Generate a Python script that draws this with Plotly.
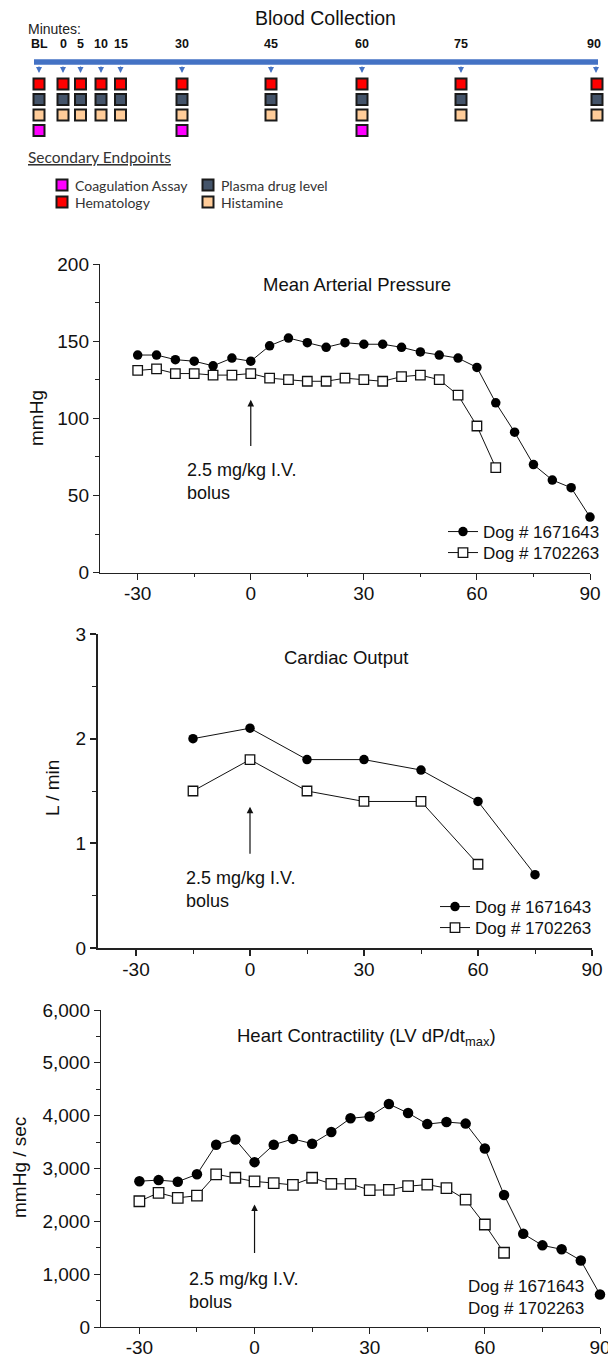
import plotly.graph_objects as go

W, H = 608, 1357

# ---------------- data ----------------
# Mean Arterial Pressure (mmHg)
map_min_dog1 = [-30, -25, -20, -15, -10, -5, 0, 5, 10, 15, 20, 25, 30, 35, 40, 45, 50, 55, 60, 65, 70, 75, 80, 85, 90]
map_dog1 = [141, 141, 138, 137, 134, 139, 137, 147, 152, 149, 146, 149, 148, 148, 146, 143, 141, 139, 133, 110, 91, 70, 60, 55, 36]
map_min_dog2 = [-30, -25, -20, -15, -10, -5, 0, 5, 10, 15, 20, 25, 30, 35, 40, 45, 50, 55, 60, 65]
map_dog2 = [131, 132, 129, 129, 128, 128, 129, 126, 125, 124, 124, 126, 125, 124, 127, 128, 125, 115, 95, 68]

# Cardiac Output (L/min)
co_min_dog1 = [-15, 0, 15, 30, 45, 60, 75]
co_dog1 = [2.0, 2.1, 1.8, 1.8, 1.7, 1.4, 0.7]
co_min_dog2 = [-15, 0, 15, 30, 45, 60]
co_dog2 = [1.5, 1.8, 1.5, 1.4, 1.4, 0.8]

# Heart Contractility (mmHg/sec)
hc_min_dog1 = [-30, -25, -20, -15, -10, -5, 0, 5, 10, 15, 20, 25, 30, 35, 40, 45, 50, 55, 60, 65, 70, 75, 80, 85, 90]
hc_dog1 = [2760, 2780, 2750, 2890, 3450, 3550, 3120, 3450, 3560, 3470, 3690, 3950, 3985, 4220, 4050, 3840, 3880, 3850, 3380, 2500, 1765, 1545, 1470, 1260, 615]
hc_min_dog2 = [-30, -25, -20, -15, -10, -5, 0, 5, 10, 15, 20, 25, 30, 35, 40, 45, 50, 55, 60, 65]
hc_dog2 = [2380, 2540, 2445, 2485, 2890, 2825, 2755, 2725, 2690, 2825, 2710, 2710, 2590, 2595, 2665, 2695, 2630, 2410, 1940, 1405]

dog_names = ["Dog # 1671643", "Dog # 1702263"]

# x tick labels (minutes)
x_tickvals = [-30, 0, 30, 60, 90]
x_ticktext = ["-30", "0", "30", "60", "90"]

# Blood collection schedule
timepoints = ["BL", "0", "5", "10", "15", "30", "45", "60", "75", "90"]
hematology_at = ["BL", "0", "5", "10", "15", "30", "45", "60", "75", "90"]
plasma_at = ["BL", "0", "5", "10", "15", "30", "45", "60", "75", "90"]
histamine_at = ["BL", "0", "5", "10", "15", "30", "45", "60", "75", "90"]
coag_at = ["BL", "30", "60"]

# ---------------- layout helpers (schematic positions) ----------------
SCHEM_X = {"BL": 39, "0": 63, "5": 80.5, "10": 101, "15": 120.5,
           "30": 182, "45": 271, "60": 362, "75": 461, "90": 597}
LABEL_X = dict(SCHEM_X, **{"90": 594})
ROW_Y = {"hem": 84, "pla": 99.5, "his": 115, "coa": 130.5}

RED = "#FF0000"
SLATE = "#44546A"
PEACH = "#FFCC99"
MAGENTA = "#FF00FF"
BLUE = "#4472C4"

CF = "Liberation Sans, Arial, sans-serif"
LF = "Lato, Carlito, Calibri, sans-serif"


def fx(p):
    return p / W


def fy(p):
    return 1 - p / H


fig = go.Figure()

# ---------- schematic (hidden axis in pixel-like units) ----------
def sq_trace(times, row, color, name):
    return go.Scatter(
        x=[SCHEM_X[t] for t in times], y=[ROW_Y[row]] * len(times),
        mode="markers", xaxis="x4", yaxis="y4", name=name, showlegend=False,
        marker=dict(symbol="square", size=11, color=color,
                    line=dict(color="#1a1a1a", width=2)),
        hoverinfo="skip", cliponaxis=False)


fig.add_trace(sq_trace(hematology_at, "hem", RED, "Hematology"))
fig.add_trace(sq_trace(plasma_at, "pla", SLATE, "Plasma drug level"))
fig.add_trace(sq_trace(histamine_at, "his", PEACH, "Histamine"))
fig.add_trace(sq_trace(coag_at, "coa", MAGENTA, "Coagulation Assay"))

# endpoint legend squares
leg_items = [("Coagulation Assay", MAGENTA, 62, 185), ("Hematology", RED, 62, 202),
             ("Plasma drug level", SLATE, 208, 185), ("Histamine", PEACH, 208, 202)]
fig.add_trace(go.Scatter(
    x=[it[2] for it in leg_items], y=[it[3] for it in leg_items],
    mode="markers", xaxis="x4", yaxis="y4", showlegend=False, hoverinfo="skip",
    marker=dict(symbol="square", size=11, color=[it[1] for it in leg_items],
                line=dict(color="#1a1a1a", width=2)), cliponaxis=False))

annotations = []
shapes = []

# timeline bar
shapes.append(dict(type="line", xref="x4", yref="y4", x0=34, x1=598, y0=62, y1=62,
                   line=dict(color=BLUE, width=5.5)))
for t in timepoints:
    xa = SCHEM_X[t] - (1 if t == "90" else 0)
    annotations.append(dict(xref="x4", yref="y4", axref="x4", ayref="y4",
                            x=xa, y=73, ax=xa, ay=65,
                            text="", showarrow=True, arrowhead=2, arrowsize=1,
                            arrowwidth=1.2, arrowcolor=BLUE))
    annotations.append(dict(xref="x4", yref="y4", x=LABEL_X[t], y=44, text="<b>%s</b>" % t,
                            showarrow=False, font=dict(family=CF, size=12.5, color="#111"),
                            xanchor="center", yanchor="middle"))

annotations.append(dict(xref="x4", yref="y4", x=26, y=29, text="Minutes:", showarrow=False,
                        font=dict(family=CF, size=14, color="#222"), xanchor="left", yanchor="middle"))
annotations.append(dict(xref="x4", yref="y4", x=325, y=18, text="Blood Collection", showarrow=False,
                        font=dict(family=CF, size=19.5, color="#111"), xanchor="center", yanchor="middle"))
annotations.append(dict(xref="x4", yref="y4", x=26, y=157, text="<u>Secondary Endpoints</u>",
                        showarrow=False, font=dict(family=LF, size=15.5, color="#333"),
                        xanchor="left", yanchor="middle"))
for name, _c, x, y in leg_items:
    annotations.append(dict(xref="x4", yref="y4", x=x + 11, y=y, text=name, showarrow=False,
                            font=dict(family=LF, size=14, color="#333"),
                            xanchor="left", yanchor="middle"))

# ---------- data charts ----------
def dog_traces(xa, ya, x1, y1, x2, y2, legs, show, msize):
    return [
        go.Scatter(x=x1, y=y1, mode="lines+markers", name=dog_names[0], xaxis=xa, yaxis=ya,
                   legend=legs[0], showlegend=show, cliponaxis=False,
                   line=dict(color="#111", width=1),
                   marker=dict(symbol="circle", size=msize, color="black")),
        go.Scatter(x=x2, y=y2, mode="lines+markers", name=dog_names[1], xaxis=xa, yaxis=ya,
                   legend=legs[1], showlegend=show, cliponaxis=False,
                   line=dict(color="#111", width=1),
                   marker=dict(symbol="square", size=msize, color="white",
                               line=dict(color="#111", width=1.3))),
    ]


for tr in dog_traces("x", "y", map_min_dog1, map_dog1, map_min_dog2, map_dog2,
                     ("legend", "legend4"), True, 9.5):
    fig.add_trace(tr)
for tr in dog_traces("x2", "y2", co_min_dog1, co_dog1, co_min_dog2, co_dog2,
                     ("legend2", "legend5"), True, 9.5):
    fig.add_trace(tr)
for tr in dog_traces("x3", "y3", hc_min_dog1, hc_dog1, hc_min_dog2, hc_dog2,
                     ("legend3", "legend3"), False, 10.5):
    fig.add_trace(tr)


def xaxis_cfg(dom, lw, anchor):
    return dict(domain=[fx(dom[0]), fx(dom[1])], range=[-40, 90], anchor=anchor,
                tickmode="array", tickvals=x_tickvals, ticktext=x_ticktext,
                ticks="outside", ticklen=6, ticklabelstandoff=-3, ticklabeloverflow="allow",
                tickwidth=lw, tickcolor="#222", showline=True, linecolor="#222", linewidth=lw,
                showgrid=False, zeroline=False,
                tickfont=dict(family=CF, size=19, color="#111"),
                minor=dict(tickmode="linear", tick0=0, dtick=15, ticks="outside",
                           ticklen=3.5, tickwidth=1, tickcolor="#222"))


def yaxis_cfg(dom, rng, dtick, mdtick, lw, anchor, fmt=None):
    d = dict(domain=[fy(dom[1]), fy(dom[0])], range=rng, anchor=anchor,
             tickmode="linear", tick0=0, dtick=dtick, ticks="outside", ticklen=6,
             tickwidth=lw, tickcolor="#222", showline=True, linecolor="#222", linewidth=lw,
             showgrid=False, zeroline=False,
             tickfont=dict(family=CF, size=19, color="#111"),
             minor=dict(dtick=mdtick, ticks="outside", ticklen=3.5, tickwidth=1, tickcolor="#222"))
    if fmt:
        d["tickformat"] = fmt
    return d


fig.update_layout(
    xaxis=xaxis_cfg((100, 590), 1.4, "y"),
    yaxis=yaxis_cfg((264, 572.6), [0, 200], 50, 25, 1.4, "x"),
    xaxis2=xaxis_cfg((98, 592), 2.2, "y2"),
    yaxis2=yaxis_cfg((634, 948), [0, 3], 1, 0.5, 2.2, "x2"),
    xaxis3=xaxis_cfg((101, 600), 1.4, "y3"),
    yaxis3=yaxis_cfg((1010, 1327), [0, 6000], 1000, 500, 1.4, "x3", fmt=",d"),
    xaxis4=dict(domain=[0, 1], range=[0, W], visible=False, anchor="y4", fixedrange=True),
    yaxis4=dict(domain=[fy(220), 1], range=[220, 0], visible=False, anchor="x4", fixedrange=True),
)

# chart titles
titles = [("Mean Arterial Pressure", 357, 285), ("Cardiac Output", 346, 657),
          ("Heart Contractility (LV dP/dt<sub>max</sub>)", 367, 1037)]
for txt, x, y in titles:
    annotations.append(dict(xref="paper", yref="paper", x=fx(x), y=fy(y), text=txt,
                            showarrow=False, font=dict(family=CF, size=18.5, color="#111"),
                            xanchor="center", yanchor="middle"))

# y-axis titles
ytitles = [("mmHg", 36, 418), ("L / min", 52, 788), ("mmHg / sec", 19, 1168)]
for txt, x, y in ytitles:
    annotations.append(dict(xref="paper", yref="paper", x=fx(x), y=fy(y), text=txt,
                            textangle=-90, showarrow=False,
                            font=dict(family=CF, size=19, color="#111"),
                            xanchor="center", yanchor="middle"))

# dosing arrows + text
bolus = [("x", "y", 81, 112, 59), ("x2", "y2", 0.887, 1.35, 0.555), ("x3", "y3", 1374, 2320, 695)]
for xa, ya, y0, y1, yt in bolus:
    annotations.append(dict(xref=xa, yref=ya, axref=xa, ayref=ya, x=0, y=y1, ax=0, ay=y0,
                            text="", showarrow=True, arrowhead=2, arrowsize=1.1,
                            arrowwidth=1.2, arrowcolor="#111"))
    annotations.append(dict(xref=xa, yref=ya, x=-17.5, y=yt,
                            text="2.5 mg/kg I.V.<br>bolus", align="left", showarrow=False,
                            font=dict(family=CF, size=18, color="#111"),
                            xanchor="left", yanchor="middle"))

# chart 3 dog labels (text only)
annotations.append(dict(xref="paper", yref="paper", x=fx(466), y=fy(1297),
                        text="Dog # 1671643<br>Dog # 1702263", align="left", showarrow=False,
                        font=dict(family=CF, size=17, color="#111"),
                        xanchor="left", yanchor="middle"))

leg_common = dict(font=dict(family=CF, size=17, color="#111"), bgcolor="rgba(0,0,0,0)",
                  borderwidth=0, xanchor="left", yanchor="top", tracegroupgap=0,
                  itemclick=False, itemdoubleclick=False)

fig.update_layout(
    width=W, height=H, margin=dict(l=0, r=0, t=0, b=0, autoexpand=False),
    paper_bgcolor="white", plot_bgcolor="white",
    annotations=annotations, shapes=shapes,
    legend=dict(x=fx(443), y=fy(514), **leg_common),
    legend4=dict(x=fx(443), y=fy(535), **leg_common),
    legend2=dict(x=fx(435), y=fy(889), **leg_common),
    legend5=dict(x=fx(435), y=fy(910), **leg_common),
    legend3=dict(visible=False),
    showlegend=True,
)

fig.write_html("out.html", config={"displayModeBar": False},
               post_script="document.body.style.margin='0';document.body.style.overflow='hidden';")
